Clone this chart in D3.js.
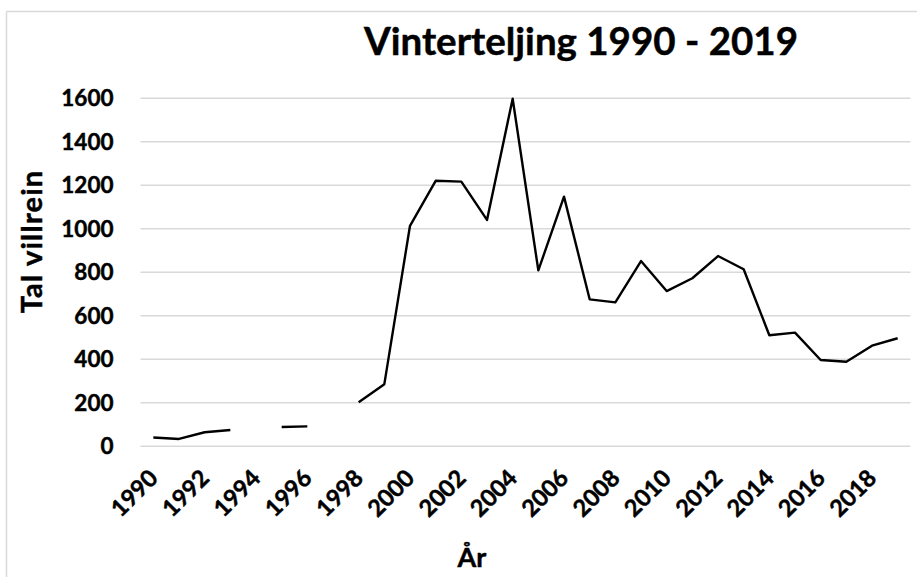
<!DOCTYPE html>
<html>
<head>
<meta charset="utf-8">
<script src="https://cdn.jsdelivr.net/npm/d3@7"></script>
<style>
  html, body { margin: 0; padding: 0; background: #fff; }
  svg { display: block; font-family: Lato, "Open Sans", sans-serif; font-weight: bold; }
  .lbl { stroke: #000; stroke-width: 0.45px; }
</style>
</head>
<body>
<svg id="chart" width="917" height="577"></svg>
<script>
const years = d3.range(1990, 2020);
const counts = [38, 31, 62, 72, null, 86, 89, null, 200, 283,
                1011, 1218, 1214, 1038, 1595, 806, 1145, 673, 659, 849,
                711, 770, 872, 811, 508, 520, 394, 386, 460, 494];
const yTicks = [0, 200, 400, 600, 800, 1000, 1200, 1400, 1600];
const xTickLabels = years.filter(y => y % 2 === 0);
const titleText = "Vinterteljing 1990 - 2019";
const yTitle = "Tal villrein";
const xTitle = "År";

(function () {
const svg = d3.select("#chart");
const W = 917, H = 577;
const mLeft = 140.5, mRight = 910.5, mTop = 97.7, mBottom = 445.7;

// chart frame (top and left edges visible)
svg.append("line").attr("x1", 6.5).attr("x2", W).attr("y1", 11.5).attr("y2", 11.5)
  .attr("stroke", "#d9d9d9").attr("stroke-width", 1.5);
svg.append("line").attr("x1", 6.5).attr("x2", 6.5).attr("y1", 11.5).attr("y2", H)
  .attr("stroke", "#d9d9d9").attr("stroke-width", 1.5);

const x = d3.scaleBand().domain(years).range([mLeft, mRight]).paddingInner(0).paddingOuter(0);
const y = d3.scaleLinear().domain([0, 1600]).range([mBottom, mTop]);

// gridlines + y labels
const yAxis = d3.axisLeft(y).tickValues(yTicks).tickFormat(d3.format("d"))
  .tickSize(-(mRight - mLeft)).tickPadding(27);
const gy = svg.append("g").attr("transform", `translate(${mLeft},0)`).call(yAxis);
gy.select(".domain").remove();
gy.selectAll(".tick line").attr("stroke", "#d9d9d9").attr("stroke-width", 1.5);
gy.selectAll(".tick text").attr("class", "lbl").attr("fill", "#000").attr("font-size", 22.5)
  .attr("font-family", "Lato, sans-serif").attr("font-weight", "bold")
  .attr("dy", "0.36em");

// x axis labels
const xAxis = d3.axisBottom(x).tickValues(xTickLabels).tickFormat(d3.format("d"))
  .tickSize(0).tickPadding(0);
const gx = svg.append("g").attr("transform", `translate(0,${mBottom})`).call(xAxis);
gx.select(".domain").remove();
gx.selectAll(".tick text")
  .attr("class", "lbl")
  .attr("fill", "#000").attr("font-size", 23.5)
  .attr("font-family", "Lato, sans-serif").attr("font-weight", "bold")
  .attr("text-anchor", "end")
  .attr("y", 0).attr("dy", 0)
  .attr("transform", "translate(6,34) rotate(-45)");

// line
const line = d3.line()
  .defined(d => d.v !== null)
  .x(d => x(d.yr) + x.bandwidth() / 2)
  .y(d => y(d.v));
const data = years.map((yr, i) => ({ yr, v: counts[i] }));
svg.append("path").datum(data)
  .attr("d", line)
  .attr("fill", "none").attr("stroke", "#000").attr("stroke-width", 2.4)
  .attr("stroke-linejoin", "round");

// titles
svg.append("text").attr("class", "lbl").attr("x", 581).attr("y", 55).attr("text-anchor", "middle")
  .attr("font-size", 38.5).attr("fill", "#000").text(titleText);
svg.append("text").attr("class", "lbl").attr("transform", "translate(41.5,241.5) rotate(-90)")
  .attr("text-anchor", "middle").attr("font-size", 29).attr("letter-spacing", 1.2)
  .attr("fill", "#000").text(yTitle);
svg.append("text").attr("class", "lbl").attr("x", 472).attr("y", 567).attr("text-anchor", "middle")
  .attr("font-size", 27).attr("fill", "#000").text(xTitle);
})();
</script>
</body>
</html>
